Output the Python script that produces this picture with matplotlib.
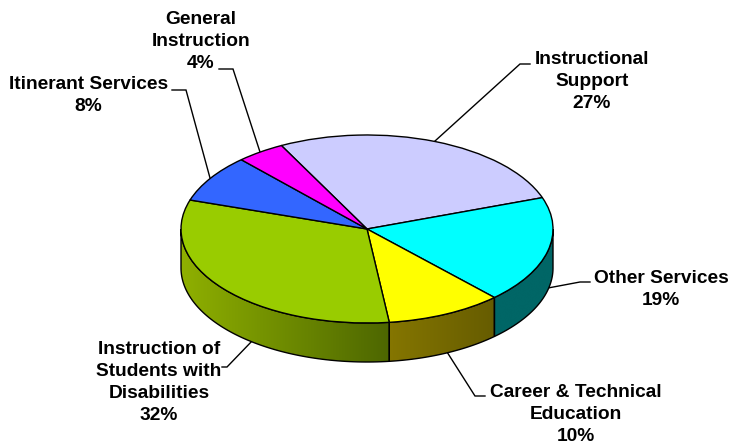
import numpy as np
import matplotlib
matplotlib.use("Agg")
import matplotlib.pyplot as plt
from matplotlib.colors import LinearSegmentedColormap
from matplotlib.patches import Polygon
from matplotlib.transforms import Affine2D

# printed percentages and the slice sizes
categories = ["Instructional\nSupport", "Other Services", "Career & Technical\nEducation",
              "Instruction of\nStudents with\nDisabilities", "Itinerant Services", "General\nInstruction"]
labels_pct = [27, 19, 10, 32, 8, 4]
shares = [27.2, 18.4, 10.1, 31.9, 8.2, 4.2]
top_colors = ["#ccccff", "#00ffff", "#ffff00", "#99cc00", "#3366ff", "#ff00ff"]
side_left = ["#8f8fb3", "#006666", "#857600", "#8fb000", "#24479e", "#b300b3"]
side_right = ["#8f8fb3", "#006666", "#665c00", "#4d6600", "#24479e", "#b300b3"]

W, H = 730, 445
CX, CY = 367, 229
RX, RY = 186, 94
DEPTH = 39 / RY
START = 117.4

# label centre x, first line y, leader line points (pixels)
label_x = [592, 661, 576, 159, 88.5, 201]
label_y = [59.5, 278.5, 392.5, 349.5, 84.5, 19.5]
leaders = [
    [(435, 141), (520, 64), (530, 64)],
    [(548, 288), (580, 282), (590, 282)],
    [(447, 352), (475, 396), (485, 396)],
    [(253, 340), (227, 367), (222, 367)],
    [(210, 178), (186, 90), (172, 90)],
    [(260, 152), (233, 69), (219, 69)],
]

plt.rcParams["font.family"] = ["Liberation Sans", "DejaVu Sans"]

fig = plt.figure(figsize=(W / 100, H / 100), dpi=100)
ax = fig.add_axes([0, 0, 1, 1])

wedges, _ = ax.pie(shares, colors=top_colors, startangle=START, counterclock=False,
                   radius=1, center=(0, 0),
                   wedgeprops=dict(edgecolor="black", linewidth=1.0, zorder=5))
ax.set_aspect("auto")
ax.set_xlim(-CX / RX, (W - CX) / RX)
ax.set_ylim((CY - H) / RY, CY / RY)
ax.axis("off")

# side wall, only the front half of the disc shows
edges = START - np.cumsum([0] + shares) * 3.6
for i in range(len(shares)):
    a1, a0 = edges[i], edges[i + 1]
    for shift in (0, -360):
        lo = max(a0 + shift, -180)
        hi = min(a1 + shift, 0)
        if hi <= lo:
            continue
        t = np.radians(np.linspace(lo, hi, 80))
        xs, ys = np.cos(t), np.sin(t)
        pts = np.vstack([np.column_stack([xs, ys]),
                         np.column_stack([xs[::-1], ys[::-1] - DEPTH])])
        poly = Polygon(pts, closed=True, facecolor="none", edgecolor="black",
                       linewidth=1.0, zorder=3)
        ax.add_patch(poly)
        cmap = LinearSegmentedColormap.from_list("s", [side_left[i], side_right[i]])
        im = ax.imshow(np.linspace(0, 1, 256).reshape(1, -1), cmap=cmap, aspect="auto",
                       extent=(xs.min(), xs.max(), ys.min() - DEPTH, ys.max()), zorder=2)
        im.set_clip_path(poly)
ax.set_xlim(-CX / RX, (W - CX) / RX)
ax.set_ylim((CY - H) / RY, CY / RY)
ax.set_aspect("auto")

# pixel coordinates, y down, for labels and leader lines
px = Affine2D().scale(1, -1).translate(0, H)
for name, pct, x, y, pts in zip(categories, labels_pct, label_x, label_y, leaders):
    n_lines = name.count("\n") + 2
    ax.text(x, y + (n_lines - 1) * 11, f"{name}\n{pct}%", transform=px, ha="center", va="center",
            fontsize=13.8, fontweight="bold", linespacing=1.37, color="black", zorder=6)
    ax.plot([p[0] for p in pts], [p[1] for p in pts], transform=px, color="black",
            linewidth=1.0, solid_joinstyle="miter", zorder=1)

fig.savefig("out.png", dpi=100)
